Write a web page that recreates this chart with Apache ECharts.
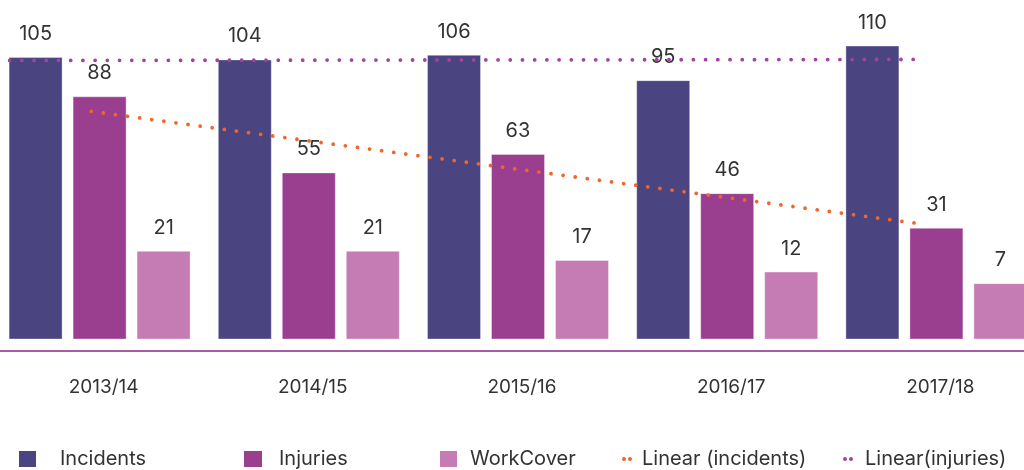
<!DOCTYPE html>
<html>
<head>
<meta charset="utf-8">
<title>Incidents, injuries and WorkCover claims</title>
<script src="https://cdn.jsdelivr.net/npm/echarts@6/dist/echarts.min.js"></script>
<style>
  html, body { margin: 0; padding: 0; background: #ffffff; }
  #chart { width: 1024px; height: 470px; }
</style>
</head>
<body>
<div id="chart"></div>
<script>
// Financial years shown on the category axis
const categories = ['2013/14', '2014/15', '2015/16', '2016/17', '2017/18'];

// Counts per year
const incidents = [105, 104, 106, 95, 110];
const injuries = [88, 55, 63, 46, 31];
const workCover = [21, 21, 17, 12, 7];

// Series names used by the legend
const seriesNames = ['Incidents', 'Injuries', 'WorkCover', 'Linear (incidents)', 'Linear(injuries)'];

const COLORS = {
  incidents: '#4a4480',
  injuries: '#9a3f8f',
  workCover: '#c57bb3',
  trendOrange: '#f2652a',
  trendPurple: '#a143a3',
  axis: '#a65aa8',
  text: '#333333'
};

const FONT = 'Inter, "Open Sans", "DejaVu Sans", sans-serif';

// Value range of the hidden y axis; bars rise from its floor
const Y_MIN = -17;
const Y_MAX = 120;

// Least-squares line through values indexed 1..n
function linearFit(values) {
  const n = values.length;
  let sx = 0, sy = 0, sxx = 0, sxy = 0;
  values.forEach((v, i) => {
    const x = i + 1;
    sx += x; sy += v; sxx += x * x; sxy += x * v;
  });
  const slope = (n * sxy - sx * sy) / (n * sxx - sx * sx);
  const intercept = (sy - slope * sx) / n;
  return x => intercept + slope * x;
}

const fitInjuries = linearFit(injuries);
const fitIncidents = linearFit(incidents);

// Horizontal extent of each trend line, in category units (1 = first year)
const orangeSpan = [0.96, 4.95];
const purpleSpan = [0.57, 4.9];

const orangeTrend = orangeSpan.map(x => [x, fitInjuries(x)]);
const purpleTrend = purpleSpan.map(x => [x, fitIncidents(x)]);

// Bar geometry relative to one category band
const BAR_WIDTH_RATIO = 0.2533;
const BAR_STEP_RATIO = 0.3059;

function barSeries(name, values, slot, color) {
  return {
    name: name,
    type: 'custom',
    xAxisIndex: 0,
    yAxisIndex: 0,
    itemStyle: { color: color },
    encode: { x: 0, y: 1 },
    data: values.map((v, i) => [i, v]),
    renderItem: function (params, api) {
      const cat = api.value(0);
      const val = api.value(1);
      const band = api.size([1, 0])[0];
      const top = api.coord([cat, val]);
      const base = api.coord([cat, Y_MIN]);
      const w = band * BAR_WIDTH_RATIO;
      const cx = top[0] + (slot - 1) * band * BAR_STEP_RATIO;
      return {
        type: 'rect',
        shape: { x: cx - w / 2, y: top[1], width: w, height: base[1] - top[1] },
        style: { fill: color, stroke: 'rgba(255,255,255,0.35)', lineWidth: 1 },
        textContent: {
          style: {
            text: String(val),
            fill: COLORS.text,
            font: '400 20px ' + FONT
          }
        },
        textConfig: { position: 'top', distance: 13 }
      };
    },
    z: 2
  };
}

function trendSeries(name, points, color) {
  return {
    name: name,
    type: 'line',
    xAxisIndex: 1,
    yAxisIndex: 0,
    data: points,
    symbol: 'none',
    silent: true,
    itemStyle: { color: color },
    lineStyle: { color: color, width: 3.8, type: [0.01, 12.2], cap: 'round' },
    z: 5
  };
}

const TWO_DOTS = 'path://M2,0A2,2,0,1,1,2,4A2,2,0,1,1,2,0ZM8,0A2,2,0,1,1,8,4A2,2,0,1,1,8,0Z';

function legendAt(name, left, icon, w, h, padLeft, color) {
  return {
    data: [{ name: name, icon: icon, itemStyle: { color: color } }],
    left: left,
    top: 449,
    padding: 0,
    itemWidth: w,
    itemHeight: h,
    selectedMode: false,
    textStyle: {
      color: COLORS.text,
      fontFamily: FONT,
      fontSize: 20,
      padding: [0, 0, 0, padLeft]
    }
  };
}

const chart = echarts.init(document.getElementById('chart'), null, { renderer: 'canvas' });

chart.setOption({
  animation: false,
  backgroundColor: '#ffffff',
  grid: {
    left: -5,
    width: 1046,
    top: 23,
    bottom: 131,
    containLabel: false,
    outerBoundsMode: 'none'
  },
  xAxis: [
    {
      type: 'category',
      data: categories,
      offset: 12,
      axisLine: { show: true, onZero: false, lineStyle: { color: COLORS.axis, width: 2 } },
      axisTick: { show: false },
      splitLine: { show: false },
      axisLabel: {
        color: COLORS.text,
        fontFamily: FONT,
        fontSize: 19,
        margin: 27,
        padding: [0, 0, 0, 8]
      }
    },
    {
      type: 'value',
      min: 0.5,
      max: 5.5,
      show: false
    }
  ],
  yAxis: {
    type: 'value',
    min: Y_MIN,
    max: Y_MAX,
    show: false,
    splitLine: { show: false }
  },
  legend: [
    legendAt(seriesNames[0], 19, 'rect', 17, 16, 19, COLORS.incidents),
    legendAt(seriesNames[1], 244, 'rect', 18, 16, 12, COLORS.injuries),
    legendAt(seriesNames[2], 440, 'rect', 17, 16, 8, COLORS.workCover),
    legendAt(seriesNames[3], 622, TWO_DOTS, 10, 4, 5, COLORS.trendOrange),
    legendAt(seriesNames[4], 843, TWO_DOTS, 10, 4, 7, COLORS.trendPurple)
  ],
  series: [
    barSeries(seriesNames[0], incidents, 0, COLORS.incidents),
    barSeries(seriesNames[1], injuries, 1, COLORS.injuries),
    barSeries(seriesNames[2], workCover, 2, COLORS.workCover),
    trendSeries(seriesNames[3], orangeTrend, COLORS.trendOrange),
    trendSeries(seriesNames[4], purpleTrend, COLORS.trendPurple)
  ]
});
</script>
</body>
</html>
